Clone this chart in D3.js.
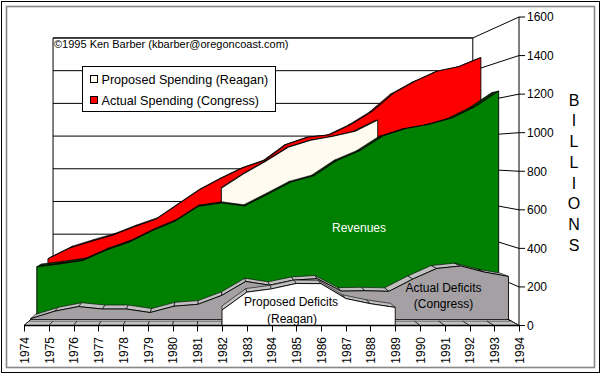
<!DOCTYPE html>
<html>
<head>
<meta charset="utf-8">
<script src="https://cdn.jsdelivr.net/npm/d3@7"></script>
<style>
  body { margin: 0; background: #fff; }
  svg { display: block; font-family: "Liberation Sans", Arial, sans-serif; }
</style>
</head>
<body>
<div id="chart"></div>
<script>
// data, billions of dollars, 1974..1994
const years = d3.range(1974, 1995)
const actualSpending = [269, 332, 372, 409, 459, 504, 591, 678, 746, 808, 852, 946, 990, 1004, 1065, 1144, 1253, 1324, 1382, 1409, 1462]
const revenues = [263, 279, 298, 355, 400, 463, 517, 599, 618, 601, 666, 734, 769, 854, 909, 991, 1032, 1055, 1091, 1154, 1240]
const actualDeficits = [5, 45, 70, 57, 57, 38, 72, 82, 130, 205, 185, 212, 220, 153, 155, 152, 218, 275, 288, 255, 232]
const proposedSpending = [null, null, null, null, null, null, null, null, 693, 776, 849, 929, 969, 992, 1021, 1085, null, null, null, null, null]
const proposedDeficits = [null, null, null, null, null, null, null, null, 80, 173, 190, 218, 217, 140, 113, 94, null, null, null, null, null]
const valueTicks = [0, 200, 400, 600, 800, 1000, 1200, 1400, 1600]
const unitLetters = ['B', 'I', 'L', 'L', 'I', 'O', 'N', 'S']

const width = 602
const height = 375

const x = d3.scaleLinear().domain([1974, 1994]).range([24, 519])
const y = d3.scaleLinear().domain([0, 1600]).range([325.5, 17])

// perspective: depth 0 = front plane, 1 = back wall
const vp = { x: 215, y: 155 }
const k = 1 / 0.848 - 1
function proj(yr, v, d) {
    const s = 1 / (1 + k * d)
    return [vp.x + (x(yr) - vp.x) * s, vp.y + (y(v) - vp.y) * s]
}
const line = d3.line()

// back to front
const series = [
    { values: actualSpending, slot: 4, fill: '#ff0000', top: '#600000' },
    { values: proposedSpending, slot: 3, fill: '#fffbf0', top: '#3a3a3a' },
    { values: revenues, slot: 2, fill: '#008000', top: '#003000' },
    { values: actualDeficits, slot: 1, fill: '#a4a0a4', top: '#c0c0c0' },
    { values: proposedDeficits, slot: 0, fill: '#ffffff', top: '#c0c0c0', zeroBand: true },
]
const thick = 0.15

const svg = d3.select('#chart').append('svg')
    .attr('width', width)
    .attr('height', height)

svg.append('rect').attr('x', 1.5).attr('y', 1.5).attr('width', 598).attr('height', 371)
    .attr('fill', '#fff').attr('stroke', '#000')
svg.append('rect').attr('x', 6.5).attr('y', 6.5).attr('width', 588).attr('height', 361)
    .attr('fill', 'none').attr('stroke', '#888').attr('stroke-width', 1.6)

// walls
const wallG = svg.append('g').attr('stroke', '#000').attr('stroke-width', 1).attr('fill', 'none')
wallG.append('path')
    .attr('d', line([proj(1974, 1600, 1), proj(1994, 1600, 1), proj(1994, 0, 1), proj(1974, 0, 1)]) + 'Z')
    .attr('fill', '#fff')
wallG.append('path')
    .attr('d', line([proj(1974, 0, 0), proj(1994, 0, 0), proj(1994, 0, 1), proj(1974, 0, 1)]) + 'Z')
    .attr('fill', '#fff')
wallG.selectAll('.grid')
    .data(valueTicks)
    .join('path')
    .attr('class', 'grid')
    .attr('d', v => line([proj(1974, v, 1), proj(1994, v, 1), proj(1994, v, 0)]))

// area slabs
const slabG = svg.append('g').attr('stroke', '#000').attr('stroke-width', 0.9).attr('stroke-linejoin', 'round')
series.forEach(sr => {
    const d0 = sr.slot * 0.2
    const d1 = d0 + thick
    const g = slabG.append('g')
    const idx = years.map((yr, i) => i).filter(i => sr.values[i] != null)
    // top faces, one per segment
    const segs = []
    for (let i = 0; i < years.length - 1; i++) {
        const a = sr.values[i], b = sr.values[i + 1]
        if (a != null && b != null) segs.push([i, a, b])
        else if (sr.zeroBand) segs.push([i, 0, 0])
    }
    g.selectAll('.top')
        .data(segs)
        .join('path')
        .attr('class', 'top')
        .attr('fill', sr.top)
        .attr('stroke-width', 0.6)
        .attr('d', ([i, a, b]) => line([
            proj(years[i], a, d0), proj(years[i + 1], b, d0),
            proj(years[i + 1], b, d1), proj(years[i], a, d1)]) + 'Z')
    const first = years[idx[0]], last = years[idx[idx.length - 1]]
    const pts = [proj(first, 0, d0)]
        .concat(idx.map(i => proj(years[i], sr.values[i], d0)))
        .concat([proj(last, 0, d0)])
    g.append('path')
        .attr('fill', sr.fill)
        .attr('d', line(pts) + 'Z')
})

// category axis
const axisG = svg.append('g')
axisG.append('path')
    .attr('d', line([[x(1974), y(0)], [x(1994), y(0)]]))
    .attr('stroke', '#000').attr('stroke-width', 1.4)
axisG.selectAll('.tick')
    .data(years)
    .join('path')
    .attr('class', 'tick')
    .attr('stroke', '#000')
    .attr('d', yr => line([[Math.round(x(yr)) + 0.5, y(0)], [Math.round(x(yr)) + 0.5, y(0) + 6]]))
axisG.selectAll('.lab')
    .data(years)
    .join('text')
    .attr('class', 'lab')
    .attr('transform', yr => `translate(${x(yr) + 0.5}, 337) rotate(-90)`)
    .attr('text-anchor', 'end')
    .attr('dy', '0.36em')
    .attr('font-size', 12)
    .text(yr => yr)

// value axis on the right
const yAxisG = svg.append('g')
yAxisG.append('path')
    .attr('d', line([[x(1994), y(0)], [x(1994), y(1600)]]))
    .attr('stroke', '#000')
yAxisG.selectAll('.vt')
    .data(valueTicks)
    .join('path')
    .attr('class', 'vt')
    .attr('stroke', '#000')
    .attr('d', v => line([[x(1994), y(v)], [x(1994) + 6, y(v)]]))
yAxisG.selectAll('.vl')
    .data(valueTicks)
    .join('text')
    .attr('class', 'vl')
    .attr('x', x(1994) + 8)
    .attr('y', v => y(v))
    .attr('dy', '0.36em')
    .attr('font-size', 12)
    .text(v => v)
svg.append('g').selectAll('text')
    .data(unitLetters)
    .join('text')
    .attr('x', 574)
    .attr('y', (c, i) => 100 + i * 20.7)
    .attr('dy', '0.36em')
    .attr('text-anchor', 'middle')
    .attr('font-size', 16)
    .text(c => c)

// labels in the areas
const labels = [
    { t: 'Revenues', x: 359, y: 232, fill: '#fff' },
    { t: 'Proposed Deficits', x: 291, y: 306, fill: '#000' },
    { t: '(Reagan)', x: 292, y: 323, fill: '#000' },
    { t: 'Actual Deficits', x: 443.5, y: 292, fill: '#000' },
    { t: '(Congress)', x: 443.5, y: 308, fill: '#000' },
]
svg.append('g').selectAll('text')
    .data(labels)
    .join('text')
    .attr('x', d => d.x)
    .attr('y', d => d.y)
    .attr('text-anchor', 'middle')
    .attr('font-size', 12)
    .attr('fill', d => d.fill)
    .text(d => d.t)

svg.append('text')
    .attr('x', 54)
    .attr('y', 48)
    .attr('font-size', 11)
    .text('\u00a91995 Ken Barber (kbarber@oregoncoast.com)')

// legend
const legendItems = [
    { t: 'Proposed Spending (Reagan)', fill: '#fffbf0' },
    { t: 'Actual Spending (Congress)', fill: '#ff0000' },
]
const legendG = svg.append('g').attr('transform', 'translate(82.5, 66.5)')
legendG.append('rect').attr('width', 193).attr('height', 45)
    .attr('fill', '#fff').attr('stroke', '#000')
const li = legendG.selectAll('g')
    .data(legendItems)
    .join('g')
    .attr('transform', (d, i) => `translate(8, ${9 + i * 21})`)
li.append('rect').attr('width', 7).attr('height', 7)
    .attr('fill', d => d.fill).attr('stroke', '#000')
li.append('text')
    .attr('x', 11)
    .attr('y', 3.5)
    .attr('dy', '0.36em')
    .attr('font-size', 12.6)
    .text(d => d.t)
</script>
</body>
</html>
